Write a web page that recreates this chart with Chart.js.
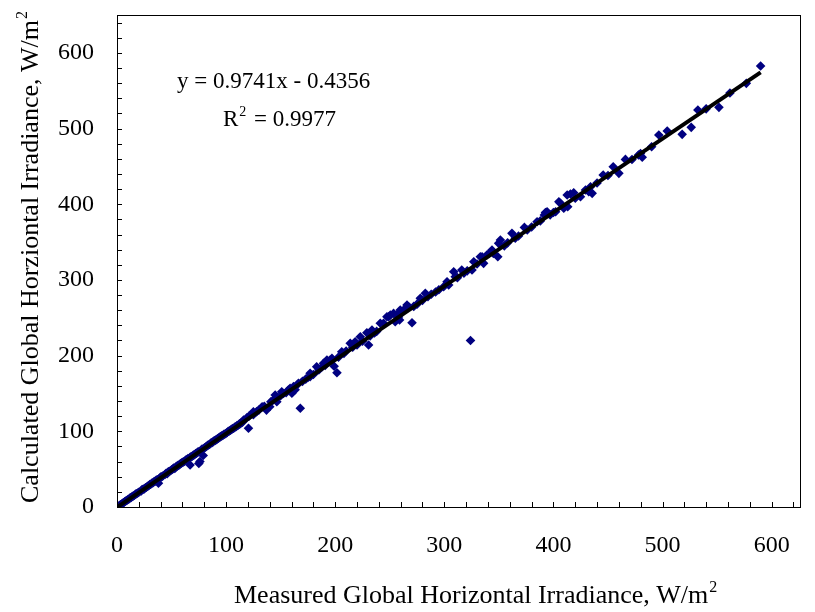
<!DOCTYPE html>
<html>
<head>
<meta charset="utf-8">
<script src="https://cdn.jsdelivr.net/npm/chart.js@4.4.1/dist/chart.umd.min.js"></script>
<style>
  body { margin: 0; background: #fff; }
  #wrap { width: 815px; height: 612px; }
</style>
</head>
<body>
<div id="wrap"><canvas id="irrChart" width="815" height="612"></canvas></div>
<script>
// measured vs calculated global horizontal irradiance, W/m2
var measured = [
  0, 1, 2, 3, 4, 5, 6, 7, 8, 9, 10, 11, 12, 13, 14, 15, 16, 17, 18, 19, 20, 22, 23, 24, 25,
  26, 27, 28, 29, 30, 31, 32, 33, 34, 35, 36, 37, 38, 39, 40, 41, 42, 44, 45, 46, 47, 48, 50,
  51, 52, 53, 54, 55, 56, 57, 58, 59, 60, 61, 62, 63, 64, 65, 67, 67, 68, 69, 70, 71, 72, 73,
  74, 75, 75, 76, 77, 78, 79, 80, 81, 82, 83, 84, 85, 86, 87, 88, 89, 90, 91, 92, 93, 94, 95,
  96, 97, 98, 99, 100, 101, 102, 103, 104, 105, 106, 107, 108, 109, 110, 111, 112, 113, 114, 115,
  116, 119, 120.5, 121, 125, 125, 128, 130, 133, 135, 137, 140, 141, 143, 145, 146.5, 146.5, 150,
  151, 152.6, 155, 157, 158.7, 160.3, 161.8, 163.3, 165, 166.3, 168, 170, 173, 175, 177, 177,
  180, 183, 185, 188, 189.3, 190.8, 192.4, 195.4, 197, 199, 201.6,
  203, 206, 208, 210, 213.8, 216, 218.3, 220, 223, 225, 229, 230.6, 232, 233.7, 236, 238, 241.3,
  244.3, 247.4, 249, 250.5, 253.5, 255, 256.6, 258, 259.6, 259, 262.7, 265.8, 267.3, 270.4, 272,
  275, 278, 280, 282.6, 285, 288, 292, 295, 299.4, 302.5, 304,
  308.6, 310, 312, 316, 318, 321, 324, 325.4, 327, 330, 333, 334.6, 336, 339, 341, 343.7, 345,
  349, 349.8, 351.4, 355, 358, 362, 365, 368, 373.4, 376, 380, 385, 388, 391.7, 392.7, 394.2,
  397, 400,
  402, 405, 406.4, 409.5, 412.6, 413.1, 415.6, 418.6, 420, 424.8, 429.4, 432.4, 434, 435.5, 440,
  445.6, 450, 454.8, 460, 466, 472, 478, 479.8, 481.4, 490, 496.6, 504.3,
  518, 526.3, 532.4, 540, 551.7, 561.8, 576.8, 589.9
];
var calculated = [
  0, 1, 1.5, 3, 3.5, 5, 5.5, 7, 8, 8.5, 10, 10.5, 12, 12.5, 14, 14.5, 15.5, 17, 17.5, 18.5, 19.5, 21, 23, 23.5, 24,
  25.5, 26, 27.5, 28, 29.5, 30, 31.5, 32, 33.5, 34, 35.5, 36, 31.5, 38, 39.5, 40, 41, 43, 44.5, 44, 46.5, 47, 49,
  50, 51.5, 51, 53, 54, 55, 55.5, 57, 58, 59, 59.5, 60.5, 62, 62.5, 64, 55.5, 65.5, 66.5, 67, 68.5, 69, 70.5, 71,
  72.5, 57.5, 73, 60, 75, 76.5, 68, 78, 79, 80, 81.5, 82, 83, 84.5, 85, 86, 87.5, 88, 89, 90, 91, 92, 93,
  94, 94.5, 96, 96.5, 97.5, 98.5, 100, 100.5, 101.5, 102.5, 103.5, 104, 105.5, 106, 107.5, 108, 109.5, 110, 111.5, 112,
  115, 118, 104, 120, 125.9, 122, 126, 128, 132.5, 133, 128, 132.5, 139, 141, 148, 139, 145, 147,
  152.3, 150, 151, 154.6, 156.8, 150.2, 159, 155, 161.2, 163.4, 130.4, 166, 169, 171, 176.7, 172,
  175, 185.3, 181, 185.3, 189.8, 187, 194.2, 194.2, 196.4, 186, 177.4,
  198, 205.2, 203, 206, 216.2, 211, 218.4, 214, 225, 219, 230.3, 214, 226, 233.8, 230, 232, 242.7,
  242.7, 251.4, 251.4, 253.6, 255.8, 244.8, 253.6, 251, 260.2, 247, 260.2, 266.8, 264.6, 243.5, 265,
  268, 275.7, 273, 282.3, 278, 281, 284, 287, 291, 297.6, 293.3,
  310.8, 304.2, 303, 313.1, 309, 312, 220, 313.1, 324, 321, 330.7, 330.7, 321.9, 332.9, 335, 339.5, 335,
  330.7, 348.3, 352.7, 345, 349, 361.5, 355, 358, 369.4, 366, 370, 376.9, 378, 385.7, 389, 390,
  386, 389,
  390, 403.3, 401.2, 394.6, 412.2, 396.7, 413.5, 415.2, 408, 409.9, 418.8, 416.5, 423, 414.4, 428,
  438.6, 438, 449.6, 440.8, 459.2, 459, 465, 467, 462, 476, 491.4, 496.7,
  492.3, 501.6, 524.4, 526, 528, 547, 559.7, 582.6
];
var slope = 0.9741;
var intercept = -0.4356;
var xTicks = [0, 100, 200, 300, 400, 500, 600];
var yTicks = [0, 100, 200, 300, 400, 500, 600];

var points = measured.map(function (m, i) { return { x: m, y: calculated[i] }; });
var maxX = Math.max.apply(null, measured);
var trend = [
  { x: 0, y: intercept },
  { x: maxX, y: slope * maxX + intercept }
];

var serif = "'Liberation Serif', 'Times New Roman', serif";

function drawSup(ctx, main, sup, x, y, size) {
  ctx.font = size + 'px ' + serif;
  ctx.fillText(main, x, y);
  var w = ctx.measureText(main).width;
  ctx.font = Math.round(size * 0.62) + 'px ' + serif;
  ctx.fillText(sup, x + w + 1, y - size * 0.42);
  return w;
}

var decorPlugin = {
  id: 'decor',
  afterDraw: function (chart) {
    var ctx = chart.ctx;
    var a = chart.chartArea;
    var xs = chart.scales.x, ys = chart.scales.y;
    ctx.save();
    ctx.strokeStyle = '#000';
    ctx.lineWidth = 1;
    ctx.strokeRect(Math.round(a.left) + 0.5, Math.round(a.top) + 0.5,
      Math.round(a.right - a.left), Math.round(a.bottom - a.top));
    // inner tick marks every 20
    ctx.beginPath();
    for (var v = 0; v <= xs.max; v += 20) {
      var px = Math.round(xs.getPixelForValue(v)) + 0.5;
      ctx.moveTo(px, a.bottom);
      ctx.lineTo(px, a.bottom - 5);
    }
    for (var u = 0; u <= ys.max; u += 20) {
      var py = Math.round(ys.getPixelForValue(u)) + 0.5;
      ctx.moveTo(a.left, py);
      ctx.lineTo(a.left + 5, py);
    }
    ctx.stroke();

    ctx.fillStyle = '#000';
    ctx.textBaseline = 'alphabetic';
    ctx.textAlign = 'left';
    // regression text
    drawSup(ctx, 'y = 0.9741x - 0.4356', '', 177, 88, 23);
    var rw = drawSup(ctx, 'R', '2', 223, 126, 23);
    ctx.font = '23px ' + serif;
    ctx.fillText(' = 0.9977', 223 + rw + 10, 126);

    // x title
    drawSup(ctx, 'Measured Global Horizontal Irradiance, W/m', '2', 234, 603, 26);

    // y title
    ctx.save();
    ctx.translate(38, 503);
    ctx.rotate(-Math.PI / 2);
    drawSup(ctx, 'Calculated Global Horziontal Irradiance, W/m', '2', 0, 0, 26);
    ctx.restore();
    ctx.restore();
  }
};

var tickFont = { family: serif, size: 24 };

new Chart(document.getElementById('irrChart'), {
  type: 'scatter',
  data: {
    datasets: [
      {
        type: 'line',
        data: trend,
        borderColor: '#000',
        borderWidth: 4,
        pointRadius: 0,
        fill: false
      },
      {
        data: points,
        pointStyle: 'rectRot',
        pointRadius: 4.8,
        backgroundColor: '#000080',
        borderColor: '#000080',
        borderWidth: 0
      }
    ]
  },
  options: {
    responsive: false,
    animation: false,
    layout: { padding: { left: 0, right: 15, top: 15, bottom: 0 } },
    plugins: {
      legend: { display: false },
      tooltip: { enabled: false }
    },
    scales: {
      x: {
        type: 'linear',
        min: 0,
        max: 626,
        afterBuildTicks: function (s) { s.ticks = xTicks.map(function (v) { return { value: v }; }); },
        afterFit: function (s) {
          s.height = 105;
          s.paddingLeft = 0; s.paddingRight = 0;
        },
        grid: { display: false, drawTicks: false },
        border: { display: false },
        ticks: { font: tickFont, color: '#000', padding: 24, maxRotation: 0, autoSkip: false }
      },
      y: {
        type: 'linear',
        min: 0,
        max: 650,
        afterBuildTicks: function (s) { s.ticks = yTicks.map(function (v) { return { value: v }; }); },
        afterFit: function (s) {
          s.width = 117;
          s.paddingTop = 0; s.paddingBottom = 0;
        },
        grid: { display: false, drawTicks: false },
        border: { display: false },
        ticks: { font: tickFont, color: '#000', padding: 23, autoSkip: false }
      }
    }
  },
  plugins: [decorPlugin]
});
</script>
</body>
</html>
